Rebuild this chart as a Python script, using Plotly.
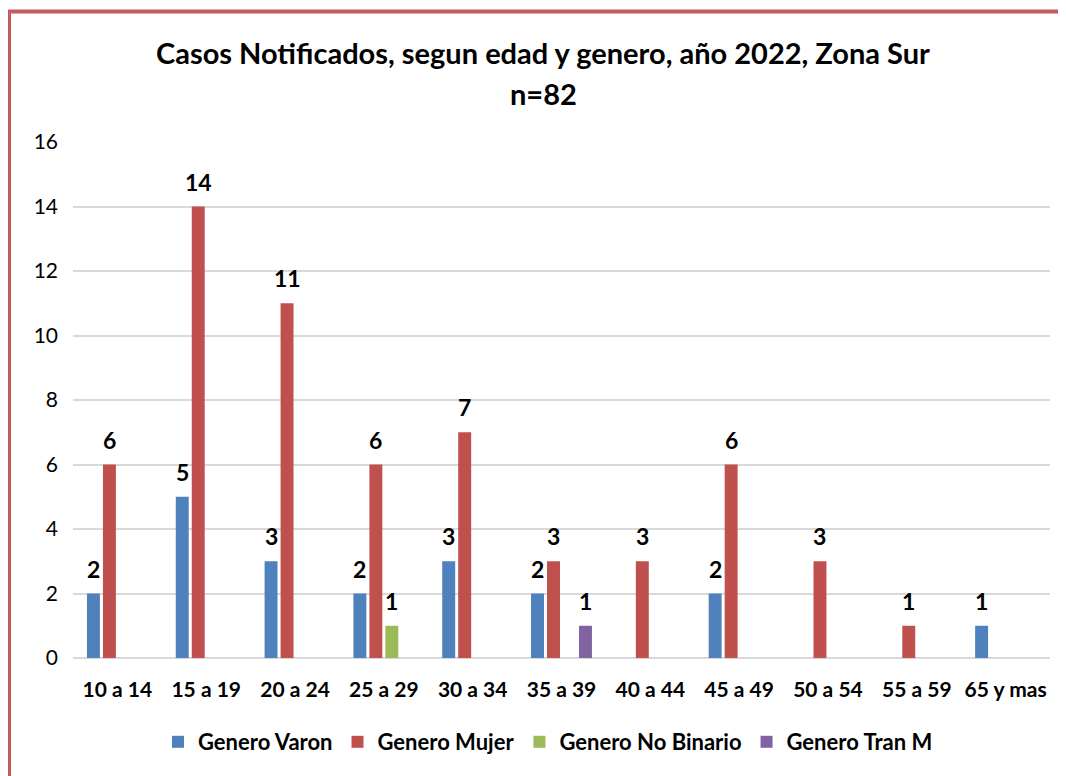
import plotly.graph_objects as go

categories = ["10 a 14", "15 a 19", "20 a 24", "25 a 29", "30 a 34", "35 a 39",
              "40 a 44", "45 a 49", "50 a 54", "55 a 59", "65 y mas"]
varon = [2, 5, 3, 2, 3, 2, 0, 2, 0, 0, 1]
mujer = [6, 14, 11, 6, 7, 3, 3, 6, 3, 1, 0]
no_binario = [0, 0, 0, 1, 0, 0, 0, 0, 0, 0, 0]
tran_m = [0, 0, 0, 0, 0, 1, 0, 0, 0, 0, 0]
y_ticks = [0, 2, 4, 6, 8, 10, 12, 14, 16]

series = [
    ("Genero Varon", varon, "#4F81BD"),
    ("Genero Mujer", mujer, "#C0504D"),
    ("Genero No Binario", no_binario, "#9BBB59"),
    ("Genero Tran M", tran_m, "#8064A2"),
]

FONT = "Lato"
# page body adds an 8px offset; plot area target: x 73..1050, y 142..658
OFF = 8
fig = go.Figure()
annotations = []
for i, (name, vals, col) in enumerate(series):
    fig.add_trace(go.Bar(
        x=categories, y=vals, name=name, marker=dict(color=col, line=dict(width=0)),
    ))
    for c, v in zip(categories, vals):
        if v:
            annotations.append(dict(
                x=c, y=v, xref="x", yref="y", text=str(v), showarrow=False,
                xshift=(i - 1.5) * 16, yshift=9, yanchor="bottom",
                font=dict(family=FONT, size=23, color="black", weight="bold"),
            ))

annotations.append(dict(
    x=(543 - 73) / 977, xref="paper", y=1 + (142 - 53) / 516, yref="paper", showarrow=False,
    text="<b>Casos Notificados, segun edad y genero, año 2022, Zona Sur</b>",
    font=dict(family=FONT, size=29, color="black"), yanchor="middle", xanchor="center",
))
annotations.append(dict(
    x=(543 - 73) / 977, xref="paper", y=1 + (142 - 93) / 516, yref="paper", showarrow=False,
    text="<b>n=82</b>", font=dict(family=FONT, size=29, color="black"),
    yanchor="middle", xanchor="center",
))

fig.update_layout(
    width=1066, height=776,
    margin=dict(l=73 - OFF, r=16 + OFF, t=142 - OFF, b=118 + OFF),
    paper_bgcolor="white", plot_bgcolor="white",
    barmode="group", bargap=0.28, bargroupgap=0.19,
    showlegend=True,
    legend=dict(orientation="h", x=(548 - 73) / 977, xanchor="center",
                y=-(742 - 658) / 516, yanchor="middle",
                font=dict(family=FONT, size=22, color="black", weight="bold"),
                itemwidth=30, traceorder="normal"),
    annotations=annotations,
    shapes=[dict(type="rect", xref="paper", yref="paper",
                 x0=(9 - 73) / 977, x1=1.5, y0=-0.6, y1=1 + (142 - 11.5) / 516,
                 line=dict(color="#C55A5A", width=4), fillcolor="rgba(0,0,0,0)",
                 layer="above")],
)
fig.update_xaxes(
    showgrid=False, showline=False, ticks="",
    tickfont=dict(family=FONT, size=21, color="black", weight="bold"),
    ticklabelstandoff=17,
)
fig.update_yaxes(
    range=[0, 16], tickvals=y_ticks, showgrid=True, gridcolor="#D9D9D9", gridwidth=2,
    zeroline=True, zerolinecolor="#D9D9D9", zerolinewidth=2, showline=False, ticks="",
    tickfont=dict(family=FONT, size=21, color="black"), ticklabelstandoff=14,
)

fig.write_html("out.html")
